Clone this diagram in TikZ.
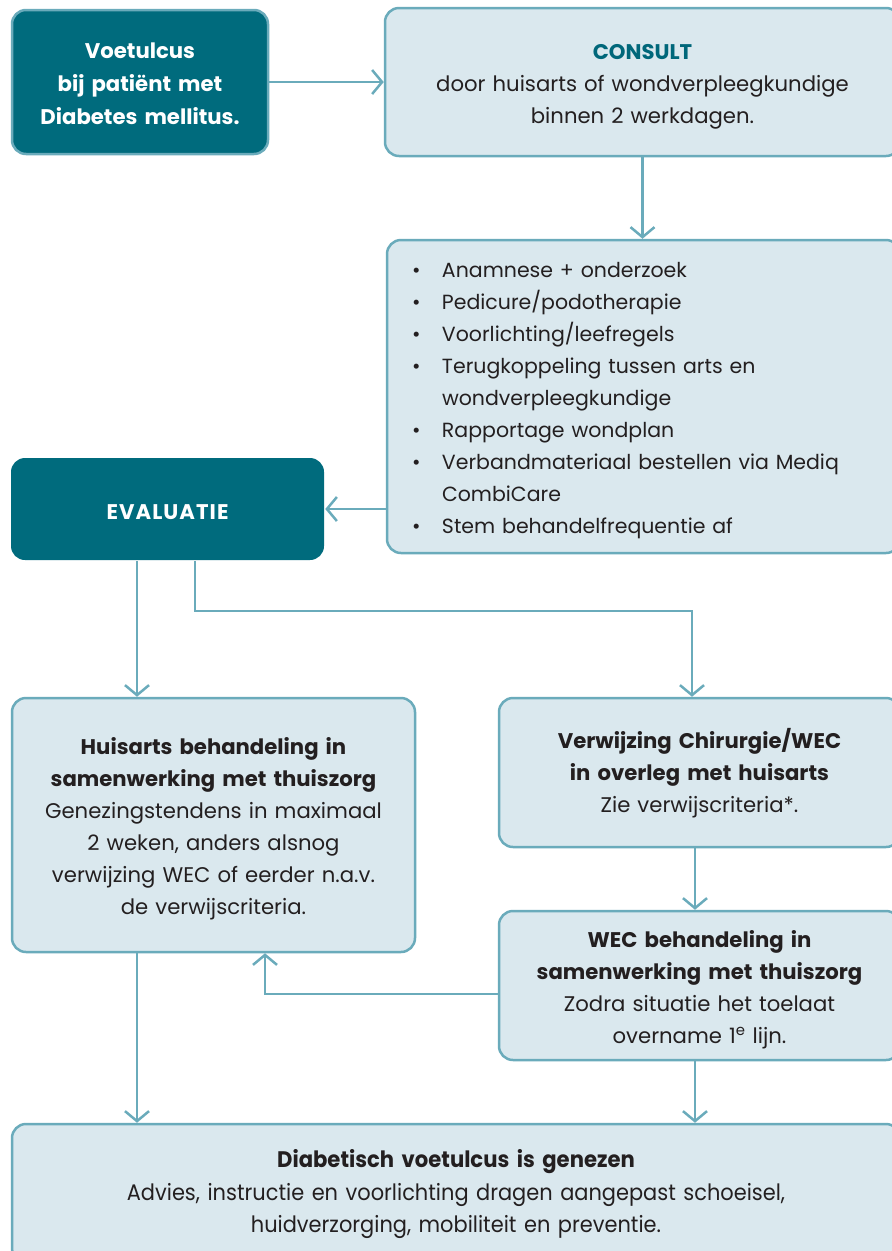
\documentclass[tikz,border=0pt]{standalone}
\usepackage{fontspec}
\setmainfont{Poppins}
\usetikzlibrary{arrows.meta}
\definecolor{tealdark}{HTML}{006B7D}
\definecolor{teallight}{HTML}{DAE8EE}
\definecolor{tealline}{HTML}{6AABBB}
\definecolor{inktext}{HTML}{231F20}
\definecolor{tealhead}{HTML}{00677A}

\begin{document}
\begin{tikzpicture}[x=1pt,y=-1pt,
  box/.style={draw=tealline, line width=2.5pt, rounded corners=14pt, fill=teallight,
    text=inktext, align=center, inner sep=0pt, font=\fontsize{21.2}{32}\selectfont},
  darkbox/.style={box, fill=tealdark, text=white, font=\bfseries\fontsize{21.2}{33}\selectfont},
  % taller first line pushes the text block down inside its box
  dropby/.style={execute at begin node={\rule{0pt}{#1}}},
  link/.style={draw=tealline, line width=2.5pt,
    -{Straight Barb[length=10pt,width=24pt,line width=2.5pt]}},
]
\useasboundingbox (0,0) rectangle (892,1251);
\clip (0,0) rectangle (892,1251);

% boxes
\node[darkbox, dropby=18.5pt, text width=240pt, minimum width=256pt, minimum height=144pt] (start) at (140,82)
  {Voetulcus\\bij patiënt met\\Diabetes mellitus.};
\node[box, dropby=25pt, text width=500pt, minimum width=515pt, minimum height=148pt] (consult) at (642.5,82)
  {{\bfseries\color{tealhead}CONSULT}\\door huisarts of wondverpleegkundige\\binnen 2 werkdagen.};
\node[box, dropby=24pt, minimum width=513pt, minimum height=313pt, text width=463pt, align=left,
      font=\fontsize{20.5}{32}\selectfont] (list) at (643.5,396.5)
  {\makebox[30pt][l]{•}Anamnese + onderzoek\\
   \makebox[30pt][l]{•}Pedicure/podotherapie\\
   \makebox[30pt][l]{•}Voorlichting/leefregels\\
   \makebox[30pt][l]{•}Terugkoppeling tussen arts en\\
   \hspace*{30pt}wondverpleegkundige\\
   \makebox[30pt][l]{•}Rapportage wondplan\\
   \makebox[30pt][l]{•}Verbandmateriaal bestellen via Mediq\\
   \hspace*{30pt}CombiCare\\
   \makebox[30pt][l]{•}Stem behandelfrequentie af};
\node[darkbox, dropby=21.5pt, draw=none, minimum width=313pt, minimum height=102pt,
      font=\bfseries\addfontfeatures{LetterSpace=5}\fontsize{21.2}{33}\selectfont] (eval) at (167.5,509)
  {EVALUATIE};
\node[box, dropby=23.5pt, text width=390pt, minimum width=403pt, minimum height=254pt] (huis) at (213.5,825)
  {\textbf{Huisarts behandeling in}\\\textbf{samenwerking met thuiszorg}\\
   Genezingstendens in maximaal\\2 weken, anders alsnog\\
   verwijzing WEC of eerder n.a.v.\\de verwijscriteria.};
\node[box, dropby=20.5pt, text width=390pt, minimum width=401pt, minimum height=149pt] (verw) at (699.5,772.5)
  {\textbf{Verwijzing Chirurgie/WEC}\\\textbf{in overleg met huisarts}\\Zie verwijscriteria*.};
\node[box, dropby=24.5pt, text width=390pt, minimum width=401pt, minimum height=149pt] (wec) at (699.5,985.5)
  {\textbf{WEC behandeling in}\\\textbf{samenwerking met thuiszorg}\\
   Zodra situatie het toelaat\\overname 1\textsuperscript{e} lijn.};
\node[box, dropby=21pt, text width=870pt, minimum width=888pt, minimum height=138pt,
      font=\addfontfeatures{FakeStretch=0.93}\fontsize{22.5}{32.5}\selectfont] (final) at (456,1193)
  {\textbf{\addfontfeatures{FakeStretch=0.94}Diabetisch voetulcus is genezen}\\
   Advies, instructie en voorlichting dragen aangepast schoeisel,\\
   huidverzorging, mobiliteit en preventie.};

% routing columns and bends
\coordinate (colA) at (137,0);
\coordinate (colB) at (195,0);
\coordinate (colD) at (695,0);
\coordinate (bend) at (692,611);
\coordinate (back) at (265,994);

% connectors
\draw[link] (start.east) -- (consult.west);
\draw[link] (consult.south) -- (consult.south |- list.north);
\draw[link] (list.west |- eval.east) -- (eval.east);
\draw[link] (eval.south -| colA) -- (huis.north -| colA);
\draw[link] (eval.south -| colB) |- (bend) -- (verw.north -| bend);
\draw[link] (verw.south -| colD) -- (wec.north -| colD);
\draw[link] (wec.west |- back) -| (huis.south -| back);
\draw[link] (huis.south -| colA) -- (final.north -| colA);
\draw[link] (wec.south -| colD) -- (final.north -| colD);
\end{tikzpicture}
\end{document}
